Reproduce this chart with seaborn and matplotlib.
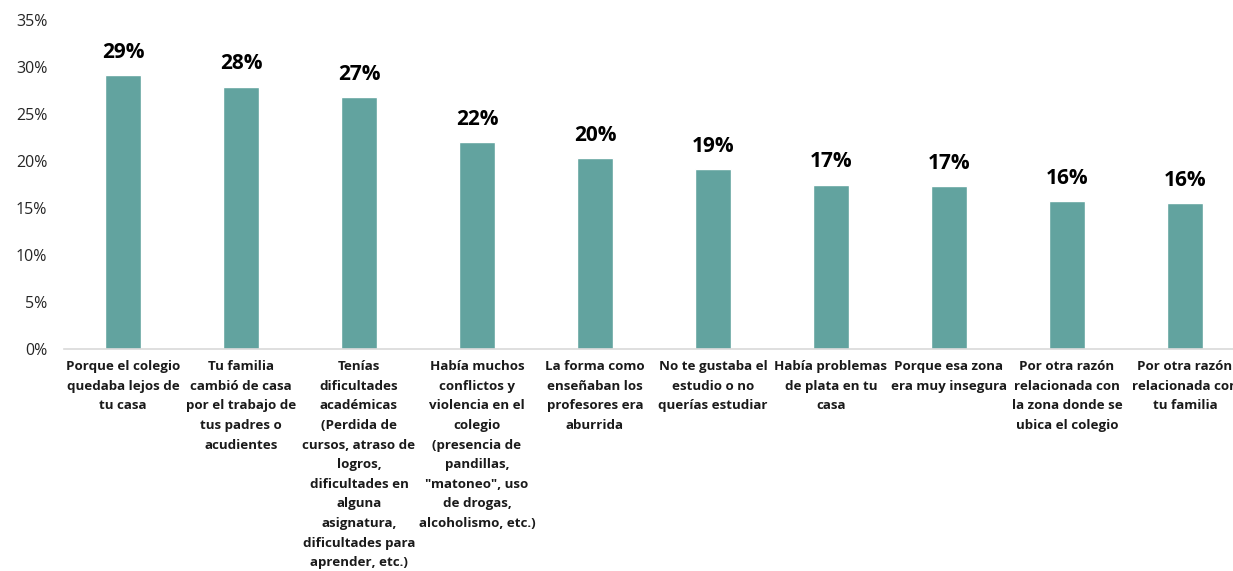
import matplotlib
matplotlib.use("Agg")
import matplotlib.pyplot as plt
import seaborn as sns
import pandas as pd
from matplotlib.ticker import FuncFormatter

categories = [
    "Porque el colegio\nquedaba lejos de\ntu casa",
    "Tu familia\ncambió de casa\npor el trabajo de\ntus padres o\nacudientes",
    "Tenías\ndificultades\nacadémicas\n(Perdida de\ncursos, atraso de\nlogros,\ndificultades en\nalguna\nasignatura,\ndificultades para\naprender, etc.)",
    "Había muchos\nconflictos y\nviolencia en el\ncolegio\n(presencia de\npandillas,\n\"matoneo\", uso\nde drogas,\nalcoholismo, etc.)",
    "La forma como\nenseñaban los\nprofesores era\naburrida",
    "No te gustaba el\nestudio o no\nquerías estudiar",
    "Había problemas\nde plata en tu\ncasa",
    "Porque esa zona\nera muy insegura",
    "Por otra razón\nrelacionada con\nla zona donde se\nubica el colegio",
    "Por otra razón\nrelacionada con\ntu familia",
]
values = [29.1, 27.9, 26.8, 22.0, 20.3, 19.1, 17.5, 17.3, 15.7, 15.5]
value_labels = ["29%", "28%", "27%", "22%", "20%", "19%", "17%", "17%", "16%", "16%"]

df = pd.DataFrame({"cat": categories, "val": values})

sns.set_style("white")
plt.rcParams["font.family"] = ["Open Sans", "DejaVu Sans"]

fig = plt.figure(figsize=(12.33, 5.71), dpi=100)
ax = fig.add_axes([64 / 1233, 222 / 571, 1180 / 1233, 329 / 571])

sns.barplot(data=df, x="cat", y="val", color="#62a39f", width=0.31,
            saturation=1, ax=ax)

for i, (v, lab) in enumerate(zip(values, value_labels)):
    ax.annotate(lab, (i, v), xytext=(0, 9), textcoords="offset points",
                ha="center", va="bottom", fontsize=15, fontweight="bold",
                color="black")

ax.set_xlim(-0.5, 9.5)
ax.set_ylim(0, 35)
ax.set_yticks(range(0, 36, 5))
ax.yaxis.set_major_formatter(FuncFormatter(lambda v, p: f"{int(v)}%"))
ax.tick_params(axis="y", labelsize=11.5, colors="#262626", length=0, pad=12)
ax.set_xticks(range(len(categories)))
ax.set_xticklabels(categories, fontsize=9.6, fontweight="bold",
                   linespacing=1.66, color="#1a1a1a")
ax.tick_params(axis="x", length=0, pad=8)
ax.set_xlabel("")
ax.set_ylabel("")
for s in ["top", "right", "left"]:
    ax.spines[s].set_visible(False)
ax.spines["bottom"].set_color("#d9d9d9")
ax.spines["bottom"].set_linewidth(1.2)

fig.savefig("out.png", dpi=100)
